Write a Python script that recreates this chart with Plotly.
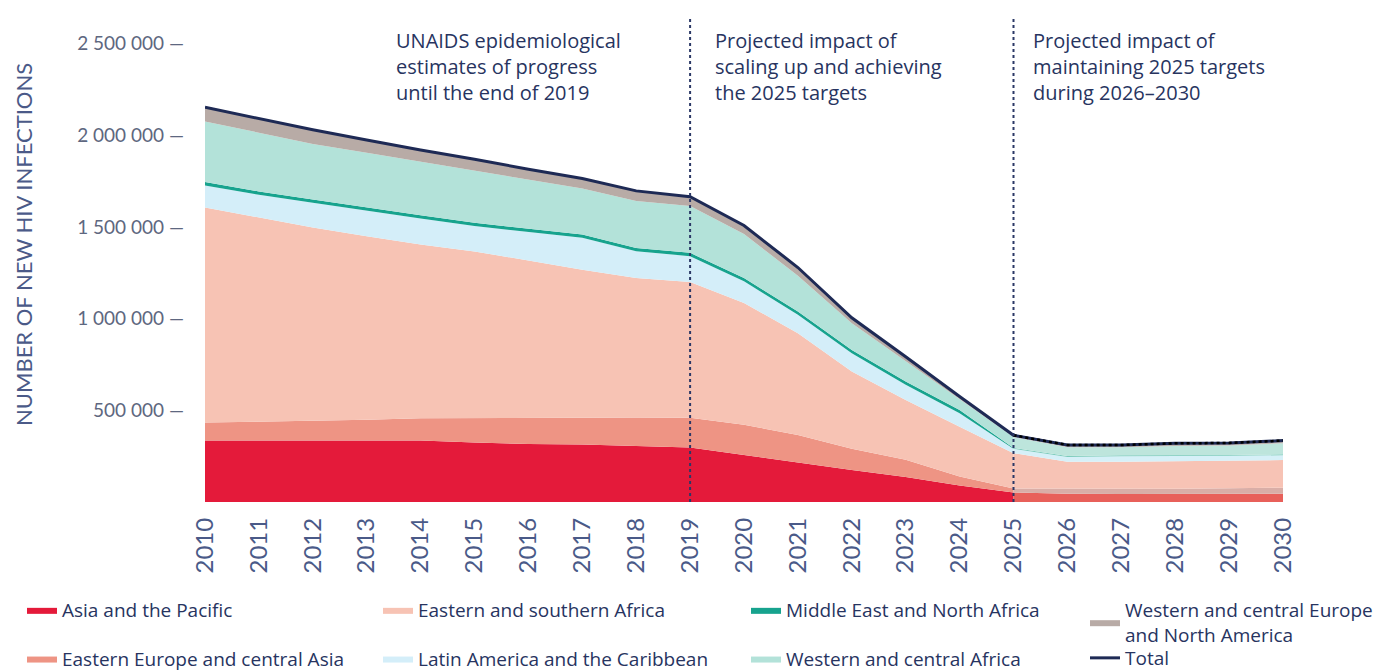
import plotly.graph_objects as go

# ---------------- data (new HIV infections, thousands) ----------------
YEARS = list(range(2010, 2031))

asia_pacific = [335, 335, 336, 336, 335, 325, 316, 313, 305, 297, 257, 215, 175, 136, 90,
                52, 45, 44, 44, 44, 45]
eastern_europe_central_asia = [98, 102, 108, 113, 122, 134, 145, 148, 156, 163, 164, 151, 115, 94, 49,
                               22, 27, 27, 28, 31, 33]
eastern_southern_africa = [1174, 1115, 1053, 1001, 948, 908, 856, 806, 761, 740, 665, 554, 422, 327, 272,
                           192, 148, 149, 152, 151, 151]
latin_america_caribbean = [120, 124, 135, 138, 141, 138, 156, 174, 146, 141, 118, 101, 99, 82, 73,
                           24, 26, 30, 26, 26, 26]
middle_east_north_africa = [18, 18, 18, 18, 18, 18, 18, 18, 18, 18, 18, 18, 18, 18, 18,
                            5, 5, 5, 5, 5, 5]
western_central_africa = [331, 322, 303, 299, 292, 284, 266, 251, 256, 256, 240, 195, 146, 110, 55,
                          59, 47, 43, 51, 51, 60]
western_central_europe_na = [77, 77, 77, 70, 64, 63, 58, 55, 55, 50, 46, 45, 30, 25, 18,
                             10, 13, 13, 14, 14, 15]
total = [2153, 2093, 2030, 1975, 1920, 1870, 1815, 1765, 1697, 1665, 1508, 1279, 1005, 792, 575,
         364, 311, 311, 320, 322, 335]

Y_TICKS = [500000, 1000000, 1500000, 2000000, 2500000]
Y_TICK_LABELS = ["500 000 —", "1 000 000 —", "1 500 000 —", "2 000 000 —", "2 500 000 —"]

PHASE_LINES = [2019, 2025]
PHASE_TEXT = [
    "UNAIDS epidemiological<br>estimates of progress<br>until the end of 2019",
    "Projected impact of<br>scaling up and achieving<br>the 2025 targets",
    "Projected impact of<br>maintaining 2025 targets<br>during 2026–2030",
]

series = [
    ("Asia and the Pacific", asia_pacific, "#E41A3A", "#E8605A", "legend"),
    ("Eastern Europe and central Asia", eastern_europe_central_asia, "#EE9484", "#D9AEA7", "legend"),
    ("Eastern and southern Africa", eastern_southern_africa, "#F7C3B4", "#F7C3B5", "legend2"),
    ("Latin America and the Caribbean", latin_america_caribbean, "#D4EEF9", "#D6F0F8", "legend2"),
    ("Middle East and North Africa", middle_east_north_africa, "#17A38E", "#7CCBBC", "legend3"),
    ("Western and central Africa", western_central_africa, "#B3E2D9", "#BDE5DC", "legend3"),
    ("Western and central Europe<br>and North America", western_central_europe_na, "#B8ABA6", "#BBB2AE", "legend4"),
]

SPLIT = YEARS.index(2025)
OFF = 8                       # page body margin of the html page
W, H = 1397 - OFF, 671 - OFF
L, R, T, B = 205 - OFF, 1283 - OFF, 18 - OFF, 502 - OFF  # plot area in figure px


def px_x(px):
    return (px - OFF - L) / (R - L)


def px_y(py):
    return (B - (py - OFF)) / (B - T)


fig = go.Figure()

for name, vals, col, col_post, leg in series:
    v = [x * 1000 for x in vals]
    fig.add_trace(go.Scatter(
        x=YEARS[:SPLIT + 1], y=v[:SPLIT + 1], name=name, stackgroup="pre",
        mode="lines", line=dict(width=0), fillcolor=col, legend=leg,
        legendgroup=name, hoverinfo="x+y+name",
    ))
    fig.add_trace(go.Scatter(
        x=YEARS[SPLIT:], y=v[SPLIT:], name=name, stackgroup="post",
        mode="lines", line=dict(width=0), fillcolor=col_post, legend=leg,
        legendgroup=name, showlegend=False, hoverinfo="x+y+name",
    ))

tot = [x * 1000 for x in total]
fig.add_trace(go.Scatter(
    x=YEARS, y=tot, name="Total", mode="lines",
    line=dict(color="#1E2A55", width=3), legend="legend5", legendgroup="Total",
))
fig.add_trace(go.Scatter(
    x=YEARS[SPLIT:], y=tot[SPLIT:], name="Total", mode="lines",
    line=dict(color="#000000", width=2.5, dash="dot"), legend="legend5",
    legendgroup="Total", showlegend=False,
))

for yr in PHASE_LINES:
    fig.add_shape(type="line", xref="x", yref="paper", x0=yr, x1=yr, y0=0, y1=1,
                  line=dict(color="#2B3866", width=2, dash="dot"), layer="above")

TXT = "#27345F"
ann_px = [394, 713, 1031]
for px, t in zip(ann_px, PHASE_TEXT):
    fig.add_annotation(x=px_x(px), y=px_y(25), xref="paper", yref="paper",
                       xanchor="left", yanchor="top", align="left", showarrow=False,
                       text=t, font=dict(family="Open Sans", size=20, color=TXT))

fig.add_annotation(x=px_x(23), y=px_y(245), xref="paper", yref="paper",
                   text="NUMBER OF NEW HIV INFECTIONS", textangle=-90, showarrow=False,
                   xanchor="center", yanchor="middle",
                   font=dict(family="Lato", size=22, color="#4B5A88"))

leg_font = dict(family="Open Sans", size=19, color=TXT)
leg_common = dict(orientation="v", xanchor="left", yanchor="top", font=leg_font,
                  xref="container", yref="container",
                  bgcolor="rgba(0,0,0,0)", traceorder="grouped", itemclick="toggle")


def leg_y(top_px):
    return (H - (top_px - OFF)) / H


def leg_x(text_px):
    return (text_px - OFF - 40) / W


fig.update_layout(
    width=W, height=H,
    margin=dict(l=L, r=W - R, t=T, b=H - B, autoexpand=False),
    paper_bgcolor="white", plot_bgcolor="white",
    showlegend=True,
    legend=dict(x=leg_x(62), y=leg_y(591), tracegroupgap=21, **leg_common),
    legend2=dict(x=leg_x(418), y=leg_y(591), tracegroupgap=21, **leg_common),
    legend3=dict(x=leg_x(786), y=leg_y(591), tracegroupgap=21, **leg_common),
    legend4=dict(x=leg_x(1125), y=leg_y(591), tracegroupgap=0, **leg_common),
    legend5=dict(x=leg_x(1125), y=leg_y(639), tracegroupgap=0, **leg_common),
    xaxis=dict(range=[2010, 2030], tickmode="array", tickvals=YEARS,
               ticktext=[str(y) for y in YEARS], tickangle=-90, showgrid=False,
               zeroline=False, showline=False, ticks="", ticklabelstandoff=10,
               tickfont=dict(family="Lato", size=24, color="#4A5A88")),
    yaxis=dict(range=[0, 2640000], tickmode="array", tickvals=Y_TICKS,
               ticktext=Y_TICK_LABELS, showgrid=False, zeroline=False, showline=False,
               ticks="", ticklabelstandoff=20,
               tickfont=dict(family="Lato", size=19, color="#5E6780")),
)

fig.write_html("out.html")
